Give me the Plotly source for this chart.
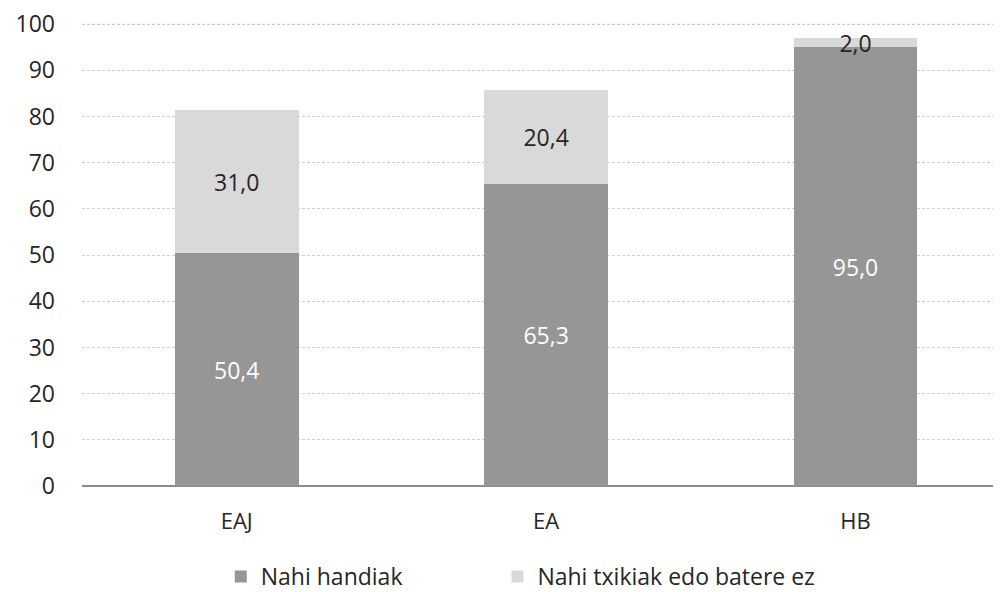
import plotly.graph_objects as go

# Datuak
alderdiak = ["EAJ", "EA", "HB"]
nahi_handiak = [50.4, 65.3, 95.0]
nahi_txikiak = [31.0, 20.4, 2.0]
y_ticks = [0, 10, 20, 30, 40, 50, 60, 70, 80, 90, 100]

FONT = "Open Sans"

fig = go.Figure()
fig.add_trace(go.Bar(
    x=alderdiak,
    y=nahi_handiak,
    name="Nahi handiak",
    legend="legend",
    marker=dict(color="#969696", line=dict(width=0)),
    text=[f"{v:.1f}".replace(".", ",") for v in nahi_handiak],
    textposition="inside",
    insidetextanchor="middle",
    textfont=dict(color="white", size=23, family=FONT),
))
fig.add_trace(go.Bar(
    x=alderdiak,
    y=nahi_txikiak,
    name="Nahi txikiak edo batere ez",
    legend="legend2",
    marker=dict(color="#d9d9d9", line=dict(width=0)),
    text=[f"{v:.1f}".replace(".", ",") for v in nahi_txikiak],
    textposition="inside",
    insidetextanchor="middle",
    textfont=dict(color="#262626", size=23, family=FONT),
))

# goiko sareta-lerroa (100) bermatzeko
fig.add_hline(y=y_ticks[-1], line=dict(color="#c8c8c8", width=1, dash="3px,2px"), layer="above")

legend_style = dict(
    orientation="h",
    xanchor="left",
    y=-0.192, yanchor="middle",
    font=dict(size=23, color="#262626"),
    itemwidth=30,
)

# orriak 8px-ko marjina du, beraz irudia pixka bat txikiagoa
fig.update_layout(
    barmode="stack",
    bargap=0.6,
    width=993,
    height=584,
    margin=dict(l=74, r=0, t=7, b=106, autoexpand=False),
    plot_bgcolor="white",
    paper_bgcolor="white",
    font=dict(family=FONT, size=22, color="#262626"),
    uniformtext=dict(minsize=23, mode="show"),
    showlegend=True,
    legend=dict(x=0.151, **legend_style),
    legend2=dict(x=0.452, **legend_style),
    xaxis=dict(
        range=[-0.5, 2.47],
        automargin=False,
        showline=False,
        ticks="",
        ticklabelstandoff=20,
        tickfont=dict(size=22),
    ),
    yaxis=dict(
        range=[0, 102],
        automargin=False,
        tickvals=y_ticks,
        showgrid=True,
        gridcolor="#d0d0d0",
        griddash="3px,2px",
        gridwidth=1,
        zeroline=True,
        zerolinecolor="#8c8c8c",
        zerolinewidth=2,
        ticks="",
        ticklabelstandoff=26,
        ticklabeloverflow="allow",
        tickfont=dict(size=23),
    ),
)

fig.write_html("out.html")
